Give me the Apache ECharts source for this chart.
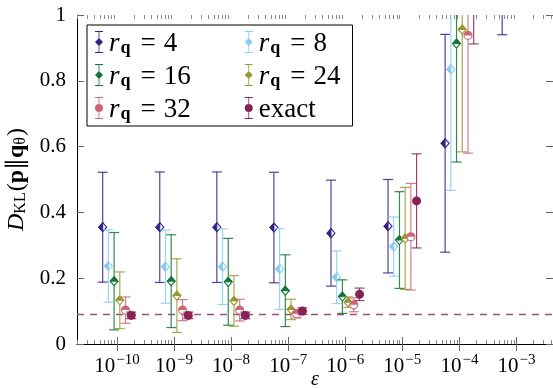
<!DOCTYPE html>
<html>
<head>
<meta charset="utf-8">
<script src="https://cdn.jsdelivr.net/npm/echarts@6/dist/echarts.min.js"></script>
<style>
  html, body { margin: 0; padding: 0; background: #fff; }
  #main { width: 553px; height: 388px; }
</style>
</head>
<body>
<div id="main"></div>
<script>
// exponent of epsilon for each group
const epsExp = [-10, -9, -8, -7, -6, -5, -4, -3];
const seriesNames = ['r4', 'r8', 'r16', 'r24', 'r32', 'exact'];
const rankLabels = ['4', '8', '16', '24', '32', null];
// horizontal dodge of each series inside a group, in decades
const dodge = [-0.25, -0.15, -0.05, 0.05, 0.15, 0.25];

// mean and std of KL divergence
const r4Mean = [0.355, 0.355, 0.355, 0.354, 0.337, 0.358, 0.61, 1.3];
const r4Err = [0.167, 0.168, 0.168, 0.168, 0.161, 0.142, 0.331, 0.36];
const r8Mean = [0.237, 0.235, 0.235, 0.228, 0.203, 0.296, 0.835, null];
const r8Err = [0.11, 0.111, 0.115, 0.123, 0.08, 0.09, 0.368, null];
const r16Mean = [0.191, 0.191, 0.189, 0.162, 0.144, 0.316, 0.913, null];
const r16Err = [0.148, 0.141, 0.132, 0.109, 0.051, 0.147, 0.36, null];
const r24Mean = [0.133, 0.147, 0.131, 0.105, 0.127, 0.321, 0.956, null];
const r24Err = [0.086, 0.112, 0.077, 0.031, 0.016, 0.155, 0.372, null];
const r32Mean = [0.103, 0.103, 0.103, 0.092, 0.119, 0.326, 0.938, null];
const r32Err = [0.04, 0.032, 0.033, 0.013, 0.021, 0.162, 0.358, null];
const exactMean = [0.087, 0.087, 0.087, 0.1, 0.151, 0.435, 1.06, null];
const exactErr = [0.01, 0.01, 0.01, 0.01, 0.019, 0.143, 0.148, null];
const exactBaseline = 0.087;

const xMajor = [-10, -9, -8, -7, -6, -5, -4, -3];
const xMin = -10.7;
const xMax = -2.36;

const means = [r4Mean, r8Mean, r16Mean, r24Mean, r32Mean, exactMean];
const errs = [r4Err, r8Err, r16Err, r24Err, r32Err, exactErr];
const colors = ['#332288', '#88CCEE', '#117733', '#999933', '#CC6677', '#882255'];
const shapes = ['diamondL', 'diamondL', 'diamondT', 'diamondT', 'circleT', 'circle'];

const serif = 'Liberation Serif';

// minor ticks at 2..9 x 10^n
const xMinor = [];
for (let n = -11; n <= -3; n++) {
  for (let k = 2; k <= 9; k++) {
    const v = n + Math.log10(k);
    if (v > xMin && v < xMax) xMinor.push(v);
  }
}

function marker(shape, cx, cy, color) {
  const w = 4, h = 4.5, r = 4;
  const out = { stroke: color, lineWidth: 1.1, fill: '#fff' };
  if (shape === 'diamondL' || shape === 'diamondT') {
    const half = shape === 'diamondL'
      ? [[cx, cy - h], [cx, cy + h], [cx - w, cy]]
      : [[cx - w, cy], [cx, cy - h], [cx + w, cy]];
    return [
      { type: 'polygon', shape: { points: [[cx, cy - h], [cx + w, cy], [cx, cy + h], [cx - w, cy]] }, style: out },
      { type: 'polygon', shape: { points: half }, style: { fill: color, stroke: color, lineWidth: 1 } }
    ];
  }
  if (shape === 'circleT') {
    return [
      { type: 'circle', shape: { cx: cx, cy: cy, r: r }, style: out },
      { type: 'sector', shape: { cx: cx, cy: cy, r0: 0, r: r, startAngle: Math.PI, endAngle: 2 * Math.PI }, style: { fill: color } }
    ];
  }
  return [{ type: 'circle', shape: { cx: cx, cy: cy, r: 4.5 }, style: { fill: color } }];
}

function makeRender(shape) {
  return function (params, api) {
    const x = api.value(0), m = api.value(1), e = api.value(2);
    const color = api.visual('color');
    const p = api.coord([x, m]);
    const hi = api.coord([x, m + e]);
    const lo = api.coord([x, m - e]);
    const cap = 5;
    const ls = function () { return { stroke: color, lineWidth: 1.2, opacity: 0.85 }; };
    const children = [
      { type: 'line', shape: { x1: p[0], y1: hi[1], x2: p[0], y2: lo[1] }, style: ls() },
      { type: 'line', shape: { x1: p[0] - cap, y1: hi[1], x2: p[0] + cap, y2: hi[1] }, style: ls() },
      { type: 'line', shape: { x1: p[0] - cap, y1: lo[1], x2: p[0] + cap, y2: lo[1] }, style: ls() }
    ].concat(marker(shape, p[0], p[1], color));
    return { type: 'group', children: children };
  };
}

const iconBar = 'M4.6 0h0.8v22h-0.8z M1 0h8v0.9h-8z M1 21.1h8v0.9h-8z ';
const icons = {
  diamondL: 'path://' + iconBar + 'M5 7l4 4l-4 4l-4 -4z',
  diamondT: 'path://' + iconBar + 'M5 7l4 4l-4 4l-4 -4z',
  circleT: 'path://' + iconBar + 'M5 7a4 4 0 1 1 0 8a4 4 0 1 1 0 -8z',
  circle: 'path://' + iconBar + 'M5 7a4 4 0 1 1 0 8a4 4 0 1 1 0 -8z'
};

const series = seriesNames.map(function (name, s) {
  const data = [];
  epsExp.forEach(function (ex, i) {
    if (means[s][i] != null) data.push([ex + dodge[s], means[s][i], errs[s][i]]);
  });
  const item = {
    name: name,
    type: 'custom',
    xAxisIndex: 0,
    yAxisIndex: 0,
    clip: true,
    color: colors[s],
    itemStyle: { color: colors[s] },
    renderItem: makeRender(shapes[s]),
    encode: { x: 0, y: 1 },
    data: data,
    z: 5 + s
  };
  if (name === 'exact') {
    item.markLine = {
      silent: true,
      symbol: 'none',
      label: { show: false },
      lineStyle: { color: '#a0507c', type: [7, 6], width: 1.3, opacity: 1 },
      emphasis: { disabled: true },
      data: [{ yAxis: exactBaseline }]
    };
  }
  return item;
});

// legend: column 1 = r4, r16, r32 ; column 2 = r8, r24, exact
const legendOrder = ['r4', 'r16', 'r32', 'r8', 'r24', 'exact'];
const firstColumn = ['r4', 'r16', 'r32'];

const chart = echarts.init(document.getElementById('main'));
const option = {
  animation: false,
  backgroundColor: '#fff',
  grid: [
    { left: 77, right: 0, top: 15, bottom: 44, outerBoundsMode: 'none', containLabel: false },
    { left: 77, right: 0, top: 15, bottom: 44, outerBoundsMode: 'none', containLabel: false }
  ],
  xAxis: [
    {
      type: 'value', gridIndex: 0, position: 'bottom', min: xMin, max: xMax,
      axisLine: { lineStyle: { color: '#000', width: 1 } },
      axisTick: { inside: true, length: 7, customValues: xMajor, lineStyle: { color: '#666' } },
      axisLabel: {
        customValues: xMajor,
        margin: 9,
        formatter: function (v) { return '{b|10}{s|\u2212' + Math.round(-v) + '}'; },
        rich: {
          b: { fontFamily: serif, fontSize: 21, color: '#000', verticalAlign: 'bottom', lineHeight: 24 },
          s: { fontFamily: serif, fontSize: 15, color: '#000', verticalAlign: 'top', lineHeight: 14, padding: [0, 0, 0, 1] }
        }
      },
      splitLine: { show: false },
      name: '\u03b5',
      nameLocation: 'middle',
      nameGap: 26,
      nameMoveOverlap: false,
      nameTextStyle: { fontFamily: serif, fontStyle: 'italic', fontSize: 20, color: '#000' }
    },
    {
      type: 'value', gridIndex: 0, position: 'top', min: xMin, max: xMax,
      axisLine: { lineStyle: { color: '#000', width: 1 } },
      axisTick: { inside: true, length: 7, customValues: xMajor, lineStyle: { color: '#666' } },
      axisLabel: { show: false },
      splitLine: { show: false }
    },
    {
      type: 'value', gridIndex: 1, position: 'bottom', min: xMin, max: xMax,
      axisLine: { show: false },
      axisTick: { inside: true, length: 4, customValues: xMinor, lineStyle: { color: '#888' } },
      axisLabel: { show: false },
      splitLine: { show: false }
    },
    {
      type: 'value', gridIndex: 1, position: 'top', min: xMin, max: xMax,
      axisLine: { show: false },
      axisTick: { inside: true, length: 4, customValues: xMinor, lineStyle: { color: '#888' } },
      axisLabel: { show: false },
      splitLine: { show: false }
    }
  ],
  yAxis: [
    {
      type: 'value', gridIndex: 0, position: 'left', min: 0, max: 1, interval: 0.2,
      axisLine: { show: true, lineStyle: { color: '#000', width: 1 } },
      axisTick: { show: true, inside: true, length: 7, lineStyle: { color: '#666' } },
      axisLabel: {
        margin: 11, fontFamily: serif, fontSize: 21, color: '#000',
        formatter: function (v) { return String(+v.toFixed(1)); }
      },
      splitLine: { show: false },
      name: '{d|D}{sub|KL}{n|(}{bf|p}{n|\u2225}{bf|q}{sub|\u03b8}{n|)}',
      nameLocation: 'middle',
      nameGap: 45,
      nameRotate: 90,
      nameTextStyle: {
        color: '#000',
        rich: {
          d: { fontFamily: serif, fontStyle: 'italic', fontSize: 24, color: '#000', verticalAlign: 'bottom', lineHeight: 28 },
          n: { fontFamily: serif, fontSize: 24, color: '#000', verticalAlign: 'bottom', lineHeight: 28 },
          bf: { fontFamily: serif, fontWeight: 'bold', fontSize: 24, color: '#000', verticalAlign: 'bottom', lineHeight: 28 },
          sub: { fontFamily: serif, fontSize: 16, color: '#000', verticalAlign: 'bottom', lineHeight: 15, padding: [0, 1, 0, 0] }
        }
      }
    },
    {
      type: 'value', gridIndex: 0, position: 'right', min: 0, max: 1, interval: 0.2,
      axisLine: { show: true, lineStyle: { color: '#000', width: 1 } },
      axisTick: { show: true, inside: true, length: 7, lineStyle: { color: '#666' } },
      axisLabel: { show: false },
      splitLine: { show: false }
    },
    { type: 'value', gridIndex: 1, min: 0, max: 1, show: false }
  ],
  legend: {
    orient: 'vertical',
    left: 87,
    top: 25,
    height: 112,
    itemWidth: 10,
    itemHeight: 22,
    itemGap: 6,
    padding: [5, 12, 3, 8],
    borderColor: '#000',
    borderWidth: 1,
    borderRadius: 0,
    backgroundColor: '#fff',
    data: legendOrder.map(function (n) {
      return { name: n, icon: icons[shapes[seriesNames.indexOf(n)]] };
    }),
    formatter: function (name) {
      const idx = seriesNames.indexOf(name);
      const pad = firstColumn.indexOf(name) >= 0 ? '{pad|}' : '';
      if (rankLabels[idx] == null) return '{n|exact}' + pad;
      return '{i|r}{q|q}{eq|=}{n|' + rankLabels[idx] + '}' + pad;
    },
    textStyle: {
      color: '#000',
      rich: {
        i: { fontFamily: serif, fontStyle: 'italic', fontSize: 27, color: '#000', verticalAlign: 'bottom', lineHeight: 30 },
        q: { fontFamily: serif, fontWeight: 'bold', fontSize: 18, color: '#000', verticalAlign: 'bottom', lineHeight: 16, padding: [0, 10, 0, 1] },
        eq: { fontFamily: serif, fontSize: 27, color: '#000', verticalAlign: 'bottom', lineHeight: 30, padding: [0, 8, 0, 0] },
        n: { fontFamily: serif, fontSize: 27, color: '#000', verticalAlign: 'bottom', lineHeight: 30 },
        pad: { width: 48, lineHeight: 30 }
      }
    }
  },
  series: series
};
chart.setOption(option);
</script>
</body>
</html>
